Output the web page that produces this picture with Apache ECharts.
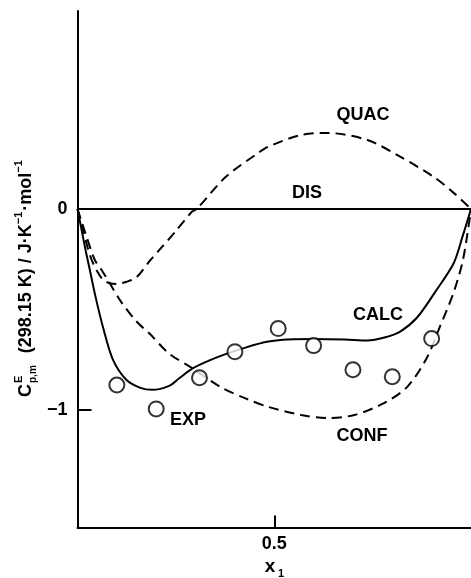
<!DOCTYPE html>
<html>
<head>
<meta charset="utf-8">
<script src="https://cdn.jsdelivr.net/npm/echarts@6/dist/echarts.min.js"></script>
<style>
html,body{margin:0;padding:0;background:#fff;}
#c{width:471px;height:578px;}
</style>
</head>
<body>
<div id="c"></div>
<script>
// ---- data ----
var expX = [0.10, 0.20, 0.31, 0.40, 0.51, 0.60, 0.70, 0.80, 0.90];
var expY = [-0.876, -0.995, -0.84, -0.71, -0.595, -0.68, -0.80, -0.835, -0.645];

var calcX = [0, 0.01, 0.02, 0.031, 0.045, 0.065, 0.09, 0.124, 0.16, 0.19, 0.233, 0.26, 0.296, 0.359, 0.427, 0.485, 0.55, 0.603, 0.68, 0.737, 0.78, 0.82, 0.863, 0.91, 0.956, 0.978, 1.0];
var calcY = [0, -0.10, -0.20, -0.30, -0.43, -0.59, -0.75, -0.85, -0.89, -0.90, -0.88, -0.84, -0.79, -0.735, -0.69, -0.66, -0.648, -0.647, -0.65, -0.655, -0.64, -0.61, -0.54, -0.41, -0.27, -0.14, 0];

var confX = [0, 0.02, 0.044, 0.06, 0.082, 0.11, 0.15, 0.183, 0.233, 0.29, 0.367, 0.43, 0.485, 0.568, 0.636, 0.704, 0.78, 0.838, 0.888, 0.92, 0.955, 0.98, 1.0];
var confY = [0, -0.12, -0.254, -0.30, -0.37, -0.46, -0.56, -0.62, -0.72, -0.79, -0.89, -0.945, -0.985, -1.025, -1.04, -1.025, -0.965, -0.885, -0.74, -0.59, -0.42, -0.25, 0];

var quacX = [0, 0.012, 0.024, 0.036, 0.05, 0.065, 0.08, 0.10, 0.125, 0.15, 0.183, 0.208, 0.25, 0.29, 0.303, 0.377, 0.46, 0.485, 0.568, 0.636, 0.737, 0.82, 0.905, 0.956, 1.0];
var quacY = [0, -0.09, -0.18, -0.254, -0.31, -0.353, -0.368, -0.373, -0.362, -0.34, -0.26, -0.204, -0.11, -0.015, 0, 0.16, 0.28, 0.31, 0.368, 0.378, 0.343, 0.26, 0.16, 0.08, 0];

var disX = [0, 1];
var disY = [0, 0];

var xTicks = [0.5];
var xTickLabels = ['0.5'];
var yTicks = [0, -1];
var yTickLabels = ['0', '\u22121'];

function pairs(xs, ys) { return xs.map(function (x, i) { return [x, ys[i]]; }); }

var FONT = '"Liberation Sans", Arial, sans-serif';
var W = 'bold';
var ctx = document.createElement('canvas').getContext('2d');
function tw(t, size, weight) { ctx.font = (weight || 'normal') + ' ' + size + 'px "Liberation Sans"'; return ctx.measureText(t).width; }

// y-axis title pieces laid along the rotated baseline
function txt(t, x, baselineY, size, weight) {
  return { type: 'text', x: x, y: baselineY + 0.21 * size,
    style: { text: t, fontSize: size, fontFamily: FONT, fontWeight: weight || W, fill: '#000', verticalAlign: 'bottom', align: 'left' } };
}
var big = 18, small = 11;
var titleKids = [];
var cx = 0;
titleKids.push(txt('C', cx, 0, big)); cx += tw('C', big, W) + 1;
titleKids.push(txt('E', cx, -9, small));
titleKids.push(txt('p,m', cx, 5, 10));
cx += Math.max(tw('E', small, W), tw('p,m', 10, W)) + 2;
var rest = [['  (298.15 K) / J\u00b7K', big, 0], ['\u22121', small, -9], ['\u00b7mol', big, 0], ['\u22121', small, -9]];
rest.forEach(function (p) { titleKids.push(txt(p[0], cx, p[2], p[1])); cx += tw(p[0], p[1], W) + (p[1] === small ? 1 : 0); });

function label(t, x, y) {
  return { type: 'text', x: x, y: y, style: { text: t, fontSize: 18, fontWeight: W, fontFamily: FONT, fill: '#000', align: 'center', verticalAlign: 'middle' } };
}

var chart = echarts.init(document.getElementById('c'), null, { renderer: 'canvas' });
chart.setOption({
  backgroundColor: '#fff',
  animation: false,
  grid: { left: 77.5, top: 11, right: -2, bottom: 50.5, containLabel: false },
  xAxis: {
    type: 'value', min: 0, max: 1, position: 'bottom',
    axisLine: { show: true, onZero: false, lineStyle: { color: '#000', width: 2 } },
    axisTick: { show: true, inside: true, length: 12, customValues: xTicks, lineStyle: { color: '#000', width: 2 } },
    axisLabel: { show: true, customValues: xTicks, formatter: function (v) { return xTickLabels[xTicks.indexOf(v)]; }, color: '#000', fontSize: 18, fontWeight: W, fontFamily: FONT, margin: 8 },
    splitLine: { show: false }
  },
  yAxis: {
    type: 'value', min: -1.585, max: 0.985,
    axisLine: { show: true, onZero: false, lineStyle: { color: '#000', width: 2 } },
    axisTick: { show: true, inside: true, length: 14, customValues: [-1], lineStyle: { color: '#000', width: 2 } },
    axisLabel: { show: true, customValues: yTicks, formatter: function (v) { return yTickLabels[yTicks.indexOf(v)]; }, color: '#000', fontSize: 18, fontWeight: W, fontFamily: FONT, margin: 10 },
    splitLine: { show: false }
  },
  series: [
    { name: 'DIS', type: 'line', data: pairs(disX, disY), showSymbol: false, lineStyle: { color: '#000', width: 2 } },
    { name: 'QUAC', type: 'line', data: pairs(quacX, quacY), smooth: 0.3, showSymbol: false, lineStyle: { color: '#000', width: 2, type: [10, 6] } },
    { name: 'CONF', type: 'line', data: pairs(confX, confY), smooth: 0.3, showSymbol: false, lineStyle: { color: '#000', width: 2, type: [10, 6] } },
    { name: 'CALC', type: 'line', data: pairs(calcX, calcY), smooth: 0.3, showSymbol: false, lineStyle: { color: '#000', width: 2 } },
    { name: 'EXP', type: 'scatter', data: pairs(expX, expY), symbol: 'circle', symbolSize: 15, z: 5,
      itemStyle: { color: '#fff', borderColor: '#000', borderWidth: 2 } }
  ],
  graphic: [
    { type: 'group', x: 31, y: 397, rotation: Math.PI / 2, children: titleKids },
    { type: 'text', x: 270, y: 567, style: { text: 'x', fontSize: 19, fontWeight: W, fontFamily: FONT, fill: '#000', align: 'center', verticalAlign: 'middle' } },
    { type: 'text', x: 281, y: 574, style: { text: '1', fontSize: 11, fontWeight: W, fontFamily: FONT, fill: '#000', align: 'center', verticalAlign: 'middle' } },
    label('QUAC', 363, 115),
    label('DIS', 307, 193),
    label('CALC', 378, 315),
    label('CONF', 362, 436),
    label('EXP', 188, 420)
  ]
});
</script>
</body>
</html>
